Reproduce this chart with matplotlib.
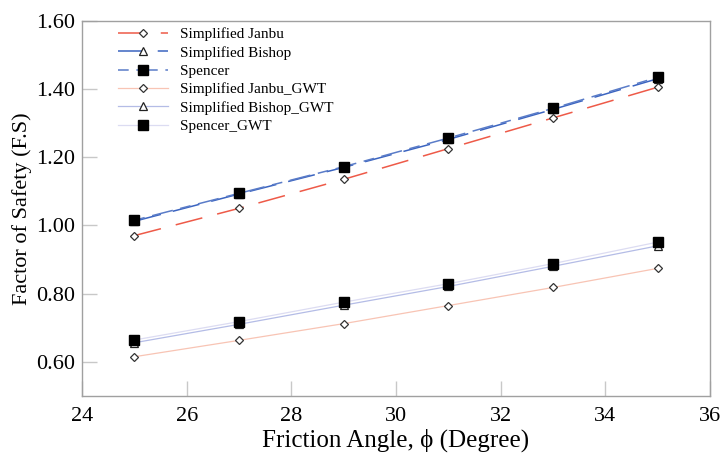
import matplotlib
matplotlib.use("Agg")
import matplotlib.pyplot as plt

plt.rcParams['font.family'] = ['Liberation Serif', 'DejaVu Serif']

phi = [25, 27, 29, 31, 33, 35]
janbu = [0.97, 1.05, 1.135, 1.225, 1.315, 1.405]
bishop = [1.012, 1.092, 1.170, 1.252, 1.340, 1.430]
spencer = [1.015, 1.094, 1.172, 1.256, 1.343, 1.434]
janbu_gwt = [0.615, 0.663, 0.712, 0.765, 0.818, 0.874]
bishop_gwt = [0.656, 0.710, 0.766, 0.821, 0.880, 0.940]
spencer_gwt = [0.664, 0.718, 0.775, 0.829, 0.888, 0.951]

labels = ["Simplified Janbu", "Simplified Bishop", "Spencer",
          "Simplified Janbu_GWT", "Simplified Bishop_GWT", "Spencer_GWT"]

fig = plt.figure(figsize=(7.21, 4.54), dpi=100)
ax = fig.add_axes([0.1137, 0.1278, 0.8710, 0.8266])

ax.plot(phi, janbu, color='#ee5a48', lw=1.1, dashes=(18, 10), marker='D',
        ms=4.5, mfc='white', mec='#333333', mew=0.9, label=labels[0])
ax.plot(phi, bishop, color='#3b64c0', lw=1.1, dashes=(18, 8), marker='^',
        ms=6, mfc='white', mec='#222222', mew=0.9, label=labels[1])
ax.plot(phi, spencer, color='#5a7cc8', lw=1.1, dashes=(7, 5, 14, 5), marker='s',
        ms=6.5, mfc='black', mec='black', label=labels[2])
ax.plot(phi, janbu_gwt, color='#f8c4b4', lw=0.9, marker='D',
        ms=4.5, mfc='white', mec='#333333', mew=0.9, label=labels[3])
ax.plot(phi, bishop_gwt, color='#b4bce6', lw=0.9, marker='^',
        ms=6, mfc='white', mec='#222222', mew=0.9, label=labels[4])
ax.plot(phi, spencer_gwt, color='#dcdcf2', lw=0.9, marker='s',
        ms=6.5, mfc='black', mec='black', label=labels[5])

ax.set_xlim(24, 36)
ax.set_ylim(0.5, 1.6)
ax.set_xticks([24, 26, 28, 30, 32, 34, 36])
ax.set_yticks([0.6, 0.8, 1.0, 1.2, 1.4, 1.6])
ax.set_yticklabels([f"{v:.2f}" for v in [0.6, 0.8, 1.0, 1.2, 1.4, 1.6]])

for s in ax.spines.values():
    s.set_color('#a0a0a0')
    s.set_linewidth(1.0)
ax.tick_params(axis='both', direction='in', length=11, color='#c8c8c8',
               labelsize=16, width=1.0, pad=5)
ax.tick_params(axis='x', pad=8)

ax.set_xlabel("Friction Angle, ϕ (Degree)", fontsize=18, labelpad=2)
ax.set_ylabel("Factor of Safety (F.S)", fontsize=16, labelpad=3)

leg = ax.legend(loc='upper left', frameon=False, fontsize=11,
                handlelength=3.3, labelspacing=0.3,
                bbox_to_anchor=(0.042, 1.006), borderaxespad=0.2, handletextpad=0.8)

fig.savefig("out.png", dpi=100)
